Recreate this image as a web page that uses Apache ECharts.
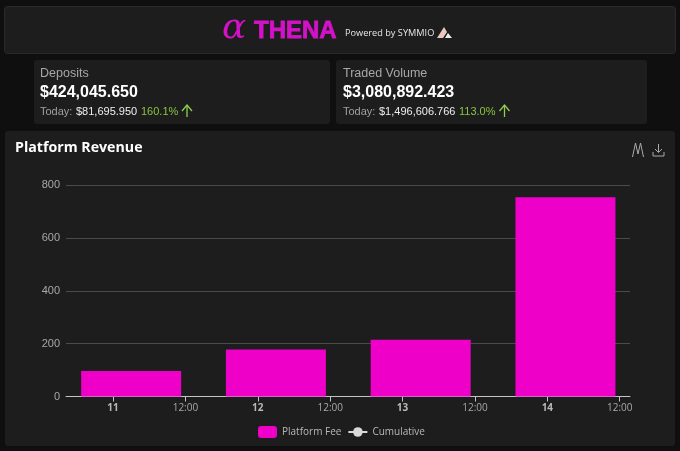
<!DOCTYPE html>
<html><head><meta charset="utf-8">
<style>html,body{margin:0;padding:0;background:#0f0f0f}#c{width:680px;height:451px}</style>
<script src="https://cdn.jsdelivr.net/npm/echarts@6/dist/echarts.min.js"></script>
</head><body><div id="c"></div>
<script>
const dayLabels = ['11','12','13','14'];
const tickHours = [0,12,24,36,48,60,72,84];
const barHours = [3,27,51,75];
const platformFee = [96,178,215,754];
const cumulative = [];
const yTicks = [0,200,400,600,800];

const SANS='"Liberation Sans",Arial,sans-serif', UI='"Open Sans","Noto Sans",sans-serif';
const panel=(x,y,w,h,fill,stroke)=>({type:'rect',z:-10,silent:true,shape:{x,y,width:w,height:h,r:3},style:{fill,stroke:stroke||null,lineWidth:1}});
const txt=(x,y,text,font,fill,extra)=>({type:'text',z:5,silent:true,x,y,style:Object.assign({text,font,fill,textVerticalAlign:'middle'},extra||{})});
const line=(points,stroke,w)=>({type:'polyline',z:5,silent:true,shape:{points},style:{stroke,fill:null,lineWidth:w||1.2}});
const arrow=(x,y)=>line([[x-5,y+0],[x,y-6],[x+5,y+0]],'#8fd14f',1.3);
const stem=(x,y)=>line([[x,y-6],[x,y+6]],'#8fd14f',1.3);

const graphics=[
 panel(4.5,6.5,671,47,'#1d1d1d','#2a2a2a'),
 panel(34,60,296,64,'#1d1d1d'),
 panel(336,60,311,64,'#1d1d1d'),
 panel(5,131,670,315,'#1d1d1d'),
 txt(222,29,'α','italic 400 36px "DejaVu Serif",serif','#d312c8'),
 txt(254,31,'THENA','900 24px "Liberation Sans",sans-serif','#d312c8',{stroke:'#d312c8',lineWidth:0.8}),
 txt(345,33,'Powered by SYMMIO','500 9.2px '+UI,'#e6e6e6'),
 {type:'polygon',z:5,silent:true,shape:{points:[[437,38],[444,27],[447,32],[443,38]]},style:{fill:'#e8c8c0'}},
 {type:'polygon',z:5,silent:true,shape:{points:[[445,38],[448,33],[452,38]]},style:{fill:'#eeeeee'}},
 txt(40,74,'Deposits','12.5px '+SANS,'#a8a8a8'),
 txt(40,93,'$424,045.650','bold 16px '+SANS,'#ffffff'),
 txt(40,112,'Today:','11px '+SANS,'#a0a0a0'),
 txt(76,112,'$81,695.950','11px '+SANS,'#eeeeee'),
 txt(141,112,'160.1%','11px '+SANS,'#86c440'),
 arrow(187,111),stem(187,111),
 txt(343,74,'Traded Volume','12.5px '+SANS,'#a8a8a8'),
 txt(343,93,'$3,080,892.423','bold 16px '+SANS,'#ffffff'),
 txt(343,112,'Today:','11px '+SANS,'#a0a0a0'),
 txt(379,112,'$1,496,606.766','11px '+SANS,'#eeeeee'),
 txt(459,112,'113.0%','11px '+SANS,'#86c440'),
 arrow(504.5,111),stem(504.5,111),
 txt(15,148,'Platform Revenue','bold 14.2px '+UI,'#ffffff'),
 line([[632.5,157],[635.5,143],[638,154],[640.5,143],[643.5,157]],'#aaaaaa',1),
 line([[658.5,144],[658.5,152]],'#aaaaaa',1),
 line([[655,149],[658.5,152.5],[662,149]],'#aaaaaa',1),
 line([[653,152],[653,156],[664,156],[664,152]],'#aaaaaa',1)
];

const chart=echarts.init(document.getElementById('c'),null,{renderer:'canvas'});
chart.setOption({
 backgroundColor:'#0f0f0f',animation:false,
 graphic:graphics,
 grid:{left:66,right:50,top:185,height:211.5,containLabel:false},
 legend:{top:421,left:253,itemGap:6,itemWidth:19,itemHeight:12,selectedMode:false,
  textStyle:{color:'#b8b8b8',fontFamily:UI,fontSize:10,fontWeight:500},
  data:[{name:'Platform Fee',icon:'roundRect'},{name:'Cumulative'}]},
 xAxis:{type:'value',min:-7.8,max:85.7,
  axisLine:{show:true,onZero:false,lineStyle:{color:'#c4c4cc',width:1}},
  splitLine:{show:false},
  axisTick:{show:true,length:5,customValues:tickHours,lineStyle:{color:'#c4c4cc'}},
  axisLabel:{customValues:tickHours,margin:7,color:'#a8a8a8',fontFamily:UI,fontSize:10,hideOverlap:false,
   formatter:v=>v%24===0?'{d|'+dayLabels[v/24]+'}':'12:00',
   rich:{d:{fontWeight:'bold',color:'#b8b8b8',fontFamily:UI,fontSize:10}}}},
 yAxis:{type:'value',min:0,max:800,interval:200,
  axisLine:{show:false},axisTick:{show:false},
  axisLabel:{margin:6,color:'#a8a8a8',fontFamily:SANS,fontSize:11,
   customValues:yTicks},
  splitLine:{lineStyle:{color:'#4a4a4a',width:1}}},
 series:[
  {name:'Platform Fee',type:'bar',barWidth:100,itemStyle:{color:'#ef00c8'},
   data:barHours.map((h,i)=>[h,platformFee[i]])},
  {name:'Cumulative',type:'line',symbol:'circle',symbolSize:8,
   itemStyle:{color:'#d9d9d9'},lineStyle:{color:'#d9d9d9',width:2},data:cumulative}
 ]
});
</script></body></html>
